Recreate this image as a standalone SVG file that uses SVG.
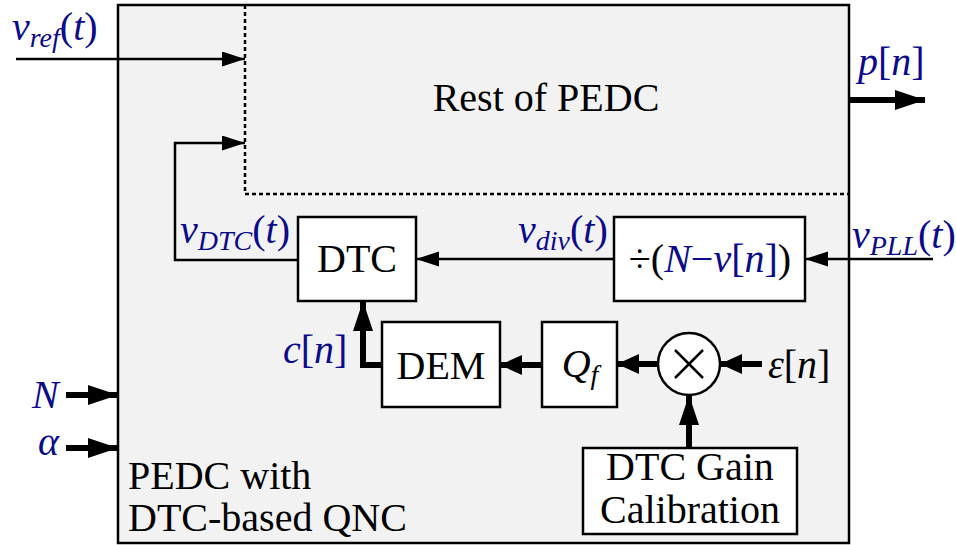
<svg xmlns="http://www.w3.org/2000/svg" width="956" height="545" viewBox="0 0 956 545">
  <style>
    text, tspan { font-family: 'Liberation Serif', 'Times New Roman', serif !important; }
    .txt { font-size: 40px; fill: #000; }
    .mth { font-size: 40px; font-style: italic; fill: #0b0b8a; }
    .up { font-style: normal; }
    .it { font-style: italic; }
    .blue { fill: #0b0b8a; }
    .sub { font-size: 28px; }
    .box { fill: #fff; stroke: #000; stroke-width: 2.5; }
    .thin { fill: none; stroke: #000; stroke-width: 2.5; }
    .thick { fill: none; stroke: #000; stroke-width: 6; }
    .dash { fill: none; stroke: #000; stroke-width: 2.5; stroke-dasharray: 4 3; }
  </style>
  <defs>
    <marker id="headThin" markerUnits="userSpaceOnUse" markerWidth="24" markerHeight="16" refX="23" refY="7.5" orient="auto">
      <path d="M0,0 L23,7.5 L0,15 Z" fill="#000"/>
    </marker>
    <marker id="headThick" markerUnits="userSpaceOnUse" markerWidth="23" markerHeight="21" refX="22" refY="10" orient="auto">
      <path d="M0,0 L22,10 L0,20 Z" fill="#000"/>
    </marker>
    <marker id="headLong" markerUnits="userSpaceOnUse" markerWidth="31" markerHeight="21" refX="30" refY="10" orient="auto">
      <path d="M0,0 L30,10 L0,20 Z" fill="#000"/>
    </marker>
  </defs>

  <!-- enclosing PEDC block -->
  <g id="pedc">
    <rect x="118" y="5" width="731" height="538" fill="#f2f2f2" stroke="#000" stroke-width="2.5"/>
    <path class="dash" d="M245,5 V194 H849"/>
    <text class="txt" style="font-family:'Liberation Serif',serif !important" x="546" y="111" text-anchor="middle">Rest of PEDC</text>
    <text class="txt" style="font-family:'Liberation Serif',serif !important" x="128" y="489">PEDC with</text>
    <text class="txt" style="font-family:'Liberation Serif',serif !important" x="128" y="531">DTC-based QNC</text>
  </g>

  <g id="dtc">
    <rect class="box" x="298" y="217" width="118" height="84"/>
    <text class="txt" style="font-family:'Liberation Serif',serif !important" x="357" y="272" text-anchor="middle">DTC</text>
  </g>

  <g id="divider">
    <rect class="box" x="614" y="217" width="191" height="84"/>
    <text class="txt" style="font-family:'Liberation Serif',serif !important" x="710" y="272" text-anchor="middle">÷(<tspan class="it blue">N</tspan><tspan class="blue">−</tspan><tspan class="it blue">v</tspan><tspan class="blue">[</tspan><tspan class="it blue">n</tspan><tspan class="blue">]</tspan>)</text>
  </g>

  <g id="dem">
    <rect class="box" x="382" y="322" width="118" height="85"/>
    <text class="txt" style="font-family:'Liberation Serif',serif !important" x="441" y="379" text-anchor="middle">DEM</text>
  </g>

  <g id="quantizer">
    <rect class="box" x="542" y="322" width="75" height="85"/>
    <text class="txt it" style="font-family:'Liberation Serif',serif !important" x="580" y="377" text-anchor="middle">Q<tspan class="sub" dy="7">f</tspan></text>
  </g>

  <g id="multiplier">
    <circle cx="689" cy="364" r="31" fill="#fff" stroke="#000" stroke-width="2.5"/>
    <path d="M675,350 L703,378 M703,350 L675,378" stroke="#000" stroke-width="2.5"/>
  </g>

  <g id="gain-calibration">
    <rect class="box" x="583" y="448" width="214" height="86"/>
    <text class="txt" style="font-family:'Liberation Serif',serif !important" x="690" y="480" text-anchor="middle">DTC Gain</text>
    <text class="txt" style="font-family:'Liberation Serif',serif !important" x="690" y="523" text-anchor="middle">Calibration</text>
  </g>

  <g id="connectors">
    <path class="thin" d="M16,59 H245" marker-end="url(#headThin)"/>
    <path class="thin" d="M298,260 H175 V143 H245" marker-end="url(#headThin)"/>
    <path class="thin" d="M614,259 H416" marker-end="url(#headThin)"/>
    <path class="thin" d="M933,259 H805" marker-end="url(#headThin)"/>
    <path class="thick" d="M382,365 H363 V301" marker-end="url(#headLong)"/>
    <path class="thick" d="M542,365 H500" marker-end="url(#headThick)"/>
    <path class="thick" d="M658,364 H617" marker-end="url(#headThick)"/>
    <path class="thick" d="M762,364 H720" marker-end="url(#headThick)"/>
    <path class="thick" d="M689,448 V395" marker-end="url(#headLong)"/>
    <path class="thick" d="M849,100 H925" marker-end="url(#headLong)"/>
    <path class="thick" d="M66,395 H118" marker-end="url(#headLong)"/>
    <path class="thick" d="M66,448 H118" marker-end="url(#headLong)"/>
  </g>

  <g id="labels">
    <text class="mth" style="font-family:'Liberation Serif',serif !important" x="12" y="40">v<tspan class="sub" dy="7">ref</tspan><tspan class="up" dy="-7">(</tspan>t<tspan class="up">)</tspan></text>
    <text class="mth" style="font-family:'Liberation Serif',serif !important" x="858" y="75">p<tspan class="up">[</tspan>n<tspan class="up">]</tspan></text>
    <text class="mth" style="font-family:'Liberation Serif',serif !important" x="180" y="243">v<tspan class="sub" dy="7">DTC</tspan><tspan class="up" dy="-7">(</tspan>t<tspan class="up">)</tspan></text>
    <text class="mth" style="font-family:'Liberation Serif',serif !important" x="518" y="243">v<tspan class="sub" dy="7">div</tspan><tspan class="up" dy="-7">(</tspan>t<tspan class="up">)</tspan></text>
    <text class="mth" style="font-family:'Liberation Serif',serif !important" x="852" y="248">v<tspan class="sub" dy="7">PLL</tspan><tspan class="up" dy="-7">(</tspan>t<tspan class="up">)</tspan></text>
    <text class="mth" style="font-family:'Liberation Serif',serif !important" x="283" y="363">c<tspan class="up">[</tspan>n<tspan class="up">]</tspan></text>
    <text class="txt" style="font-family:'Liberation Serif',serif !important" x="768" y="378"><tspan class="it">ε</tspan>[<tspan class="it">n</tspan>]</text>
    <text class="mth" style="font-family:'Liberation Serif',serif !important" x="32" y="408">N</text>
    <text class="mth" style="font-family:'Liberation Serif',serif !important" x="38" y="455">α</text>
  </g>
</svg>
